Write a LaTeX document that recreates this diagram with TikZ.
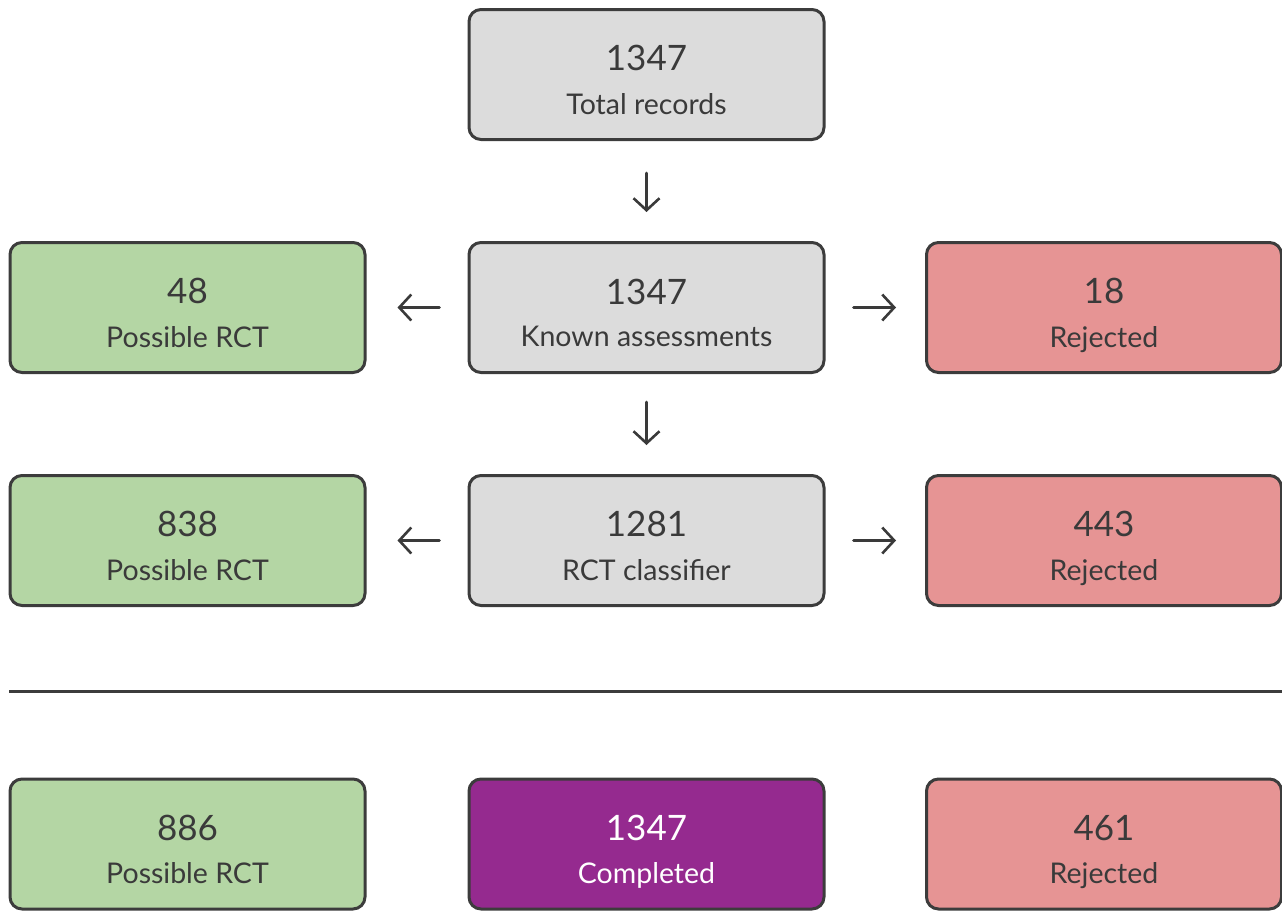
\documentclass[tikz,border=0pt]{standalone}
\usepackage{fontspec}
\setmainfont{Lato}
\usetikzlibrary{arrows.meta}
\definecolor{boxgray}{HTML}{DCDCDC}
\definecolor{boxgreen}{HTML}{B4D6A4}
\definecolor{boxred}{HTML}{E69494}
\definecolor{boxpurple}{HTML}{952A8F}
\definecolor{ink}{HTML}{3A3A3A}
\definecolor{edge}{HTML}{3C3C3C}
\tikzset{
  box/.style={draw=edge, line width=3pt, rounded corners=12pt,
    minimum width=355pt, minimum height=130pt, align=center, text=ink,
    inner sep=0pt},
  gray/.style={box, fill=boxgray},
  green/.style={box, fill=boxgreen},
  red/.style={box, fill=boxred},
  purple/.style={box, fill=boxpurple, text=white},
  arr/.style={draw=ink, line width=2.6pt, line cap=round,
    -{Straight Barb[length=12pt,width=26pt,line width=2.6pt]}},
}
\newcommand{\boxtext}[2]{{\fontsize{35}{40}\selectfont\rule{0pt}{45pt}#1}\\[21pt]{\fontsize{28.5}{40}\selectfont\rule[-9pt]{0pt}{9pt}#2}}
\begin{document}
\begin{tikzpicture}[x=1pt,y=1pt]
\useasboundingbox (0,0) rectangle (1282,-911);
\node[gray] (total) at (646.5,-74.5) {\boxtext{1347}{Total records}};
\node[gray] (known) at (646.5,-307.5) {\boxtext{1347}{Known assessments}};
\node[green] (kpos) at (187.5,-307.5) {\boxtext{48}{Possible RCT}};
\node[red] (krej) at (1104,-307.5) {\boxtext{18}{Rejected}};
\node[gray] (clf) at (646.5,-540.5) {\boxtext{1281}{RCT classifier}};
\node[green] (cpos) at (187.5,-540.5) {\boxtext{838}{Possible RCT}};
\node[red] (crej) at (1104,-540.5) {\boxtext{443}{Rejected}};
\node[green] (tpos) at (187.5,-844) {\boxtext{886}{Possible RCT}};
\node[purple] (done) at (646.5,-844) {\boxtext{1347}{Completed}};
\node[red] (trej) at (1104,-844) {\boxtext{461}{Rejected}};
\draw[arr, shorten <=32pt, shorten >=29pt] (total.south) -- (known.north);
\draw[arr, shorten <=28pt, shorten >=29pt] (known.south) -- (clf.north);
\draw[arr, shorten <=28pt, shorten >=31pt] (known.west) -- (kpos.east);
\draw[arr, shorten <=28pt, shorten >=29pt] (known.east) -- (krej.west);
\draw[arr, shorten <=28pt, shorten >=31pt] (clf.west) -- (cpos.east);
\draw[arr, shorten <=28pt, shorten >=29pt] (clf.east) -- (crej.west);
\coordinate (sepL) at (9,-691);
\coordinate (sepR) at (1282,-691);
\draw[draw=edge, line width=3pt] (sepL) -- (sepR);
\end{tikzpicture}
\end{document}
